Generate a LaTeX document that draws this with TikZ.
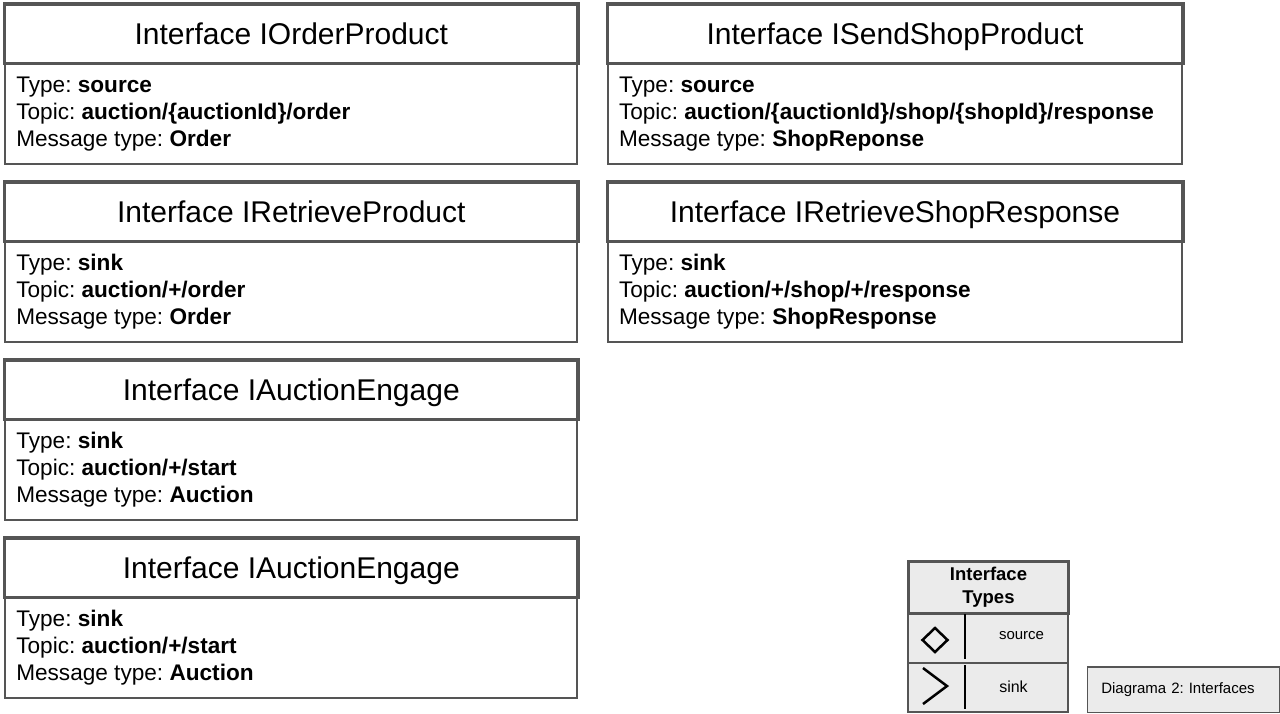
\documentclass[tikz,border=0pt]{standalone}
\usepackage{fontspec}
\setmainfont{Liberation Sans}
\frenchspacing
\definecolor{bordergray}{HTML}{555555}
\definecolor{legendfill}{HTML}{EBEBEB}
\tikzset{
  hdr/.style={draw=bordergray, line width=3.5pt, fill=white, inner sep=0pt,
    anchor=north west, minimum height=59.5pt, text height=24pt, text depth=2.6pt,
    font=\fontsize{30}{36}\selectfont},
  bodybox/.style={draw=bordergray, line width=2pt, fill=white, inner sep=0pt,
    anchor=north west, minimum height=101.5pt},
  bodytext/.style={anchor=west, align=left, inner sep=0pt,
    font=\fontsize{22.6}{27}\selectfont},
  legcell/.style={draw=bordergray, line width=1.5pt, fill=legendfill, inner sep=0pt, anchor=north west},
  symline/.style={draw=black, line width=2.5pt},
}
\newcommand{\ifacebox}[8]{%
  % #1 name, #2 x, #3 y, #4 width, #5 title, #6 type, #7 topic, #8 msgtype
  \node[bodybox, minimum width=#4pt-1pt] (#1b) at (#2+1,#3+59.5) {};
  \node[hdr, minimum width=#4pt] (#1h) at (#2,#3) {#5};
  \node[bodytext] (#1t) at ([xshift=12.3pt,yshift=-0.8pt]#1b.west) {Type: \textbf{#6}\\Topic: \textbf{#7}\\Message type: \textbf{#8}};
}
\begin{document}
\begin{tikzpicture}[x=1pt,y=-1pt]
\useasboundingbox (0,0) rectangle (1280,713);
\fill[white] (0,0) rectangle (1280,713);

\ifacebox{a}{2.8}{2}{573.5}{Interface IOrderProduct}{source}{auction/\{auctionId\}/order}{Order}
\ifacebox{b}{2.8}{180}{573.5}{Interface IRetrieveProduct}{sink}{auction/+/order}{Order}
\ifacebox{c}{2.8}{358}{573.5}{Interface IAuctionEngage}{sink}{auction/+/start}{Auction}
\ifacebox{d}{2.8}{536}{573.5}{Interface IAuctionEngage}{sink}{auction/+/start}{Auction}
\ifacebox{e}{605.5}{2}{575.5}{Interface ISendShopProduct}{source}{auction/\{auctionId\}/shop/\{shopId\}/response}{ShopReponse}
\ifacebox{f}{605.5}{180}{575.5}{Interface IRetrieveShopResponse}{sink}{auction/+/shop/+/response}{ShopResponse}

% legend
\node[legcell, minimum width=160pt, minimum height=50pt] (srcrow) at (907,611.5) {};
\node[legcell, minimum width=160pt, minimum height=49pt] (sinkrow) at (907,662) {};
\node[draw=bordergray, line width=3pt, fill=legendfill, inner sep=0pt, anchor=north west,
  minimum width=160pt, minimum height=51.5pt, align=center,
  font=\bfseries\fontsize{18.5}{23}\selectfont] (leghdr) at (907,560) {Interface\\Types};
\coordinate (v1a) at (965,614);
\coordinate (v1b) at (965,659);
\coordinate (v2a) at (965,665);
\coordinate (v2b) at (965,709);
\draw[symline] (v1a) -- (v1b);
\draw[symline] (v2a) -- (v2b);
\coordinate (dm) at (935,640);
\draw[symline, line join=miter] ([xshift=-12.5pt]dm) -- ([yshift=-12pt]dm) -- ([xshift=12.5pt]dm) -- ([yshift=12pt]dm) -- cycle;
\coordinate (ch1) at (923,668);
\coordinate (ch2) at (947,686);
\coordinate (ch3) at (923,704);
\draw[symline] (ch1) -- (ch2) -- (ch3);
\node[font=\fontsize{15}{18}\selectfont, inner sep=0pt] (srctxt) at (1021.5,636) {source};
\node[font=\fontsize{16}{19}\selectfont, inner sep=0pt] (sinktxt) at (1013.5,687) {sink};

% caption
\node[draw=bordergray, line width=1.5pt, fill=legendfill, inner xsep=14pt, inner ysep=0pt, anchor=north west,
  text width=164pt, align=left, minimum height=45.5pt, font=\fontsize{15}{18}\selectfont] (caption) at (1086.5,666) {Diagrama 2: Interfaces};
\end{tikzpicture}
\end{document}
